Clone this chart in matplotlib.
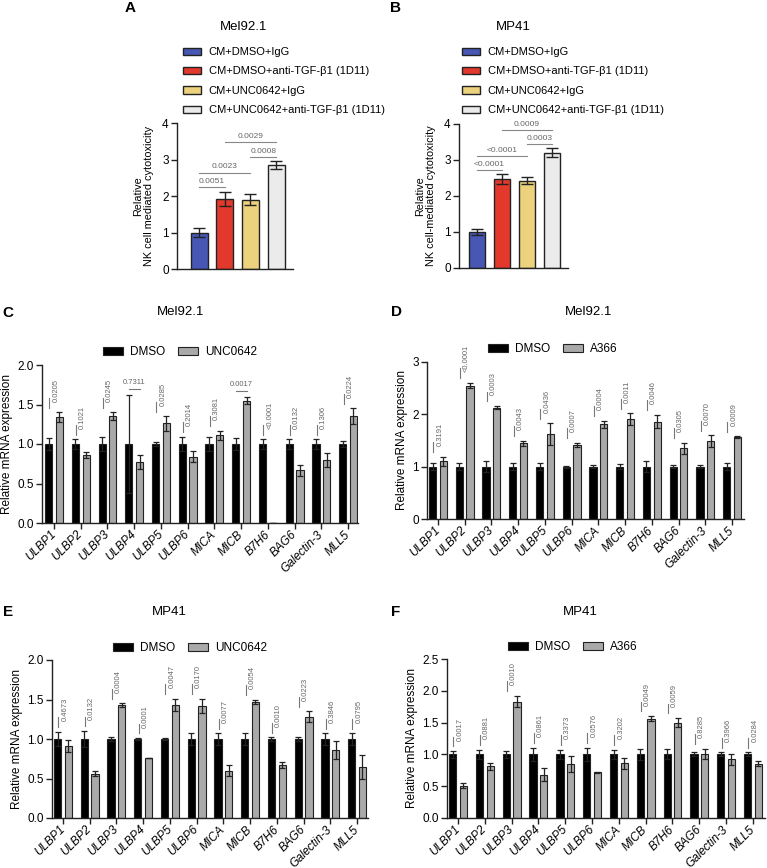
import matplotlib
matplotlib.use('Agg')
import matplotlib.pyplot as plt
import numpy as np
from matplotlib.patches import Patch

plt.rcParams['font.family'] = ['Liberation Sans', 'DejaVu Sans']

# ---- panels A / B : NK cytotoxicity ----
nk_groups = ['CM+DMSO+IgG', 'CM+DMSO+anti-TGF-β1 (1D11)',
             'CM+UNC0642+IgG', 'CM+UNC0642+anti-TGF-β1 (1D11)']
mel_nk_mean = [1.00, 1.92, 1.90, 2.85]
mel_nk_err = [0.13, 0.20, 0.16, 0.10]
mel_nk_p = [(0, 1, '0.0051', 0), (0, 2, '0.0023', 1),
            (2, 3, '0.0008', 0), (1, 3, '0.0029', 1)]
mp_nk_mean = [1.00, 2.47, 2.42, 3.20]
mp_nk_err = [0.08, 0.13, 0.10, 0.12]
mp_nk_p = [(0, 1, '<0.0001', 0), (0, 2, '<0.0001', 1),
           (2, 3, '0.0003', 0), (1, 3, '0.0009', 1)]

# ---- panels C-F : qPCR ----
genes = ['ULBP1', 'ULBP2', 'ULBP3', 'ULBP4', 'ULBP5', 'ULBP6',
         'MICA', 'MICB', 'B7H6', 'BAG6', 'Galectin-3', 'MLL5']
dmso = [1.0, 1.0, 1.0, 1.0, 1.0, 1.0, 1.0, 1.0, 1.0, 1.0, 1.0, 1.0]

c_dmso_err = [0.07, 0.06, 0.09, 0.62, 0.02, 0.09, 0.09, 0.07, 0.06, 0.06, 0.06, 0.04]
c_unc = [1.34, 0.86, 1.35, 0.77, 1.26, 0.84, 1.11, 1.55, 0.005, 0.67, 0.80, 1.35]
c_unc_err = [0.06, 0.04, 0.05, 0.09, 0.09, 0.07, 0.06, 0.04, 0.0, 0.07, 0.09, 0.10]
c_p = ['0.0205', '0.1021', '0.0245', '0.7311', '0.0285', '0.2014',
       '0.3081', '0.0017', '<0.0001', '0.0132', '0.1306', '0.0224']
c_flat = ['ULBP4', 'MICB']

d_dmso_err = [0.07, 0.07, 0.10, 0.07, 0.07, 0.02, 0.03, 0.05, 0.10, 0.03, 0.03, 0.07]
d_a366 = [1.10, 2.55, 2.13, 1.45, 1.62, 1.42, 1.81, 1.91, 1.86, 1.35, 1.49, 1.56]
d_a366_err = [0.09, 0.05, 0.03, 0.05, 0.21, 0.04, 0.07, 0.11, 0.13, 0.11, 0.11, 0.02]
d_p = ['0.3191', '<0.0001', '0.0003', '0.0043', '0.0436', '0.0007',
       '0.0004', '0.0011', '0.0046', '0.0305', '0.0070', '0.0009']

e_dmso_err = [0.09, 0.10, 0.03, 0.01, 0.01, 0.07, 0.07, 0.08, 0.02, 0.03, 0.07, 0.07]
e_unc = [0.91, 0.56, 1.43, 0.76, 1.43, 1.42, 0.60, 1.47, 0.67, 1.28, 0.86, 0.65]
e_unc_err = [0.08, 0.03, 0.02, 0.005, 0.08, 0.09, 0.07, 0.03, 0.04, 0.07, 0.11, 0.15]
e_p = ['0.4673', '0.0132', '0.0004', '0.0001', '0.0047', '0.0170',
       '0.0077', '0.0054', '0.0010', '0.0223', '0.3846', '0.0795']

f_dmso_err = [0.05, 0.07, 0.05, 0.10, 0.07, 0.10, 0.07, 0.09, 0.08, 0.03, 0.03, 0.03]
f_a366 = [0.51, 0.81, 1.83, 0.68, 0.85, 0.72, 0.86, 1.56, 1.50, 1.01, 0.92, 0.85]
f_a366_err = [0.04, 0.05, 0.09, 0.10, 0.12, 0.01, 0.09, 0.04, 0.07, 0.08, 0.08, 0.04]
f_p = ['0.0017', '0.0881', '0.0010', '0.0861', '0.3373', '0.0576',
       '0.3202', '0.0049', '0.0059', '0.8285', '0.3966', '0.0284']

W, H = 767, 868
fig = plt.figure(figsize=(W / 100, H / 100), dpi=100)

nk_colors = ['#4757b3', '#e2392c', '#ecd27c', '#ebebeb']
EDGE = '#222222'
PGRAY = '#666666'


def px_axes(x0, x1, ytop, ybot):
    return fig.add_axes([x0 / W, 1 - ybot / H, (x1 - x0) / W, (ybot - ytop) / H])


def style_axes(ax):
    for s in ['top', 'right']:
        ax.spines[s].set_visible(False)
    for s in ['left', 'bottom']:
        ax.spines[s].set_linewidth(1.0)
        ax.spines[s].set_color(EDGE)
    ax.tick_params(width=1.0, length=4, color=EDGE, labelsize=8.5, pad=2)


def fig_text(x, y, s, **kw):
    fig.text(x / W, 1 - y / H, s, **kw)


def nk_panel(x0, x1, ytop, ybot, mean, err, pvals, ylabel, xlim):
    ax = px_axes(x0, x1, ytop, ybot)
    x = np.arange(len(mean))
    ax.bar(x, mean, width=0.66, color=nk_colors, edgecolor=EDGE, linewidth=1.0,
           yerr=err, capsize=4, error_kw=dict(elinewidth=1.0, capthick=1.0, ecolor=EDGE))
    ax.set_xlim(*xlim)
    ax.set_ylim(0, 4)
    ax.set_yticks([0, 1, 2, 3, 4])
    ax.set_xticks([])
    style_axes(ax)
    ax.set_ylabel(ylabel, fontsize=7.8, linespacing=1.1, labelpad=6)
    tops = np.array(mean) + np.array(err)
    for i, j, lab, lev in pvals:
        y = tops[i:j + 1].max() + 0.12 + 0.4 * lev
        ax.plot([i, j], [y, y], color='#888888', lw=0.8)
        ax.text((i + j) / 2, y + 0.06, lab, ha='center', va='bottom', fontsize=6, color=PGRAY)
    return ax


nk_panel(177, 293, 123, 269, mel_nk_mean, mel_nk_err, mel_nk_p,
         'Relative\nNK cell mediated cytotoxicity', (-0.86, 3.66))
nk_panel(459, 568, 124, 268, mp_nk_mean, mp_nk_err, mp_nk_p,
         'Relative\nNK cell-mediated cytotoxicity', (-0.72, 3.64))

for lx, ly in [(183, 47), (462, 47)]:
    handles = [Patch(facecolor=c, edgecolor=EDGE, linewidth=1.0) for c in nk_colors]
    fig.legend(handles, nk_groups, loc='upper left', bbox_to_anchor=(lx / W, 1 - ly / H),
               frameon=False, fontsize=8, handlelength=1.6, handleheight=0.6,
               handletextpad=0.7, labelspacing=0.85, borderpad=0, borderaxespad=0)

fig_text(244, 27, 'Mel92.1', ha='center', va='center', fontsize=9.5)
fig_text(513, 27, 'MP41', ha='center', va='center', fontsize=9.5)


def gene_panel(x0, x1, ytop, ybot, ymax, yticks, fmt, treat, terr, derr, pvals,
               tname, xlim, flat=()):
    ax = px_axes(x0, x1, ytop, ybot)
    x = np.arange(len(genes))
    off, bw = 0.2, 0.27
    ek = dict(elinewidth=0.9, capthick=0.9, ecolor=EDGE)
    ax.bar(x - off, dmso, width=bw, color='black', edgecolor=EDGE, linewidth=0.8,
           yerr=derr, capsize=2.2, error_kw=ek, label='DMSO')
    ax.bar(x + off, treat, width=bw, color='#a9a9a9', edgecolor=EDGE, linewidth=0.8,
           yerr=terr, capsize=2.2, error_kw=ek, label=tname)
    ax.set_xlim(*xlim)
    ax.set_ylim(0, ymax)
    ax.set_yticks(yticks)
    ax.set_yticklabels([fmt % v for v in yticks])
    ax.set_xticks(x)
    ax.set_xticklabels(genes, rotation=45, ha='right', va='center', rotation_mode='anchor',
                       fontsize=8, style='italic')
    style_axes(ax)
    ax.tick_params(axis='x', pad=3)
    ax.set_ylabel('Relative mRNA expression', fontsize=8.5, labelpad=3)
    tops = np.maximum(np.array(dmso) + np.array(derr), np.array(treat) + np.array(terr))
    pad, ln = 0.03 * ymax, 0.062 * ymax
    for i, lab in enumerate(pvals):
        if genes[i] in flat:
            y = tops[i] + 0.04 * ymax
            ax.plot([i - off, i + off], [y, y], color='#777777', lw=0.8)
            ax.text(i, y + 0.02 * ymax, lab, ha='center', va='bottom', fontsize=5.5, color=PGRAY)
        else:
            y0 = tops[i] + pad
            ax.plot([i - 0.17, i - 0.17], [y0, y0 + ln], color='#777777', lw=0.8)
            ax.text(i - 0.06, y0 + 0.6 * ln, lab, rotation=90, ha='left', va='bottom',
                    fontsize=5.5, color=PGRAY)
    return ax


def gene_legend(ax, x, y, tname):
    ax.legend(loc='center left', bbox_to_anchor=(x / W, 1 - y / H), bbox_transform=fig.transFigure,
              ncol=2, frameon=False, fontsize=8.5, handlelength=1.7, handleheight=0.65,
              handletextpad=0.6, columnspacing=1.1, borderpad=0, borderaxespad=0)


axc = gene_panel(42, 358, 365, 523, 2.0, [0, 0.5, 1.0, 1.5, 2.0], '%.1f', c_unc, c_unc_err,
                 c_dmso_err, c_p, 'UNC0642', (-0.45, 11.37), flat=c_flat)
gene_legend(axc, 103, 352, 'UNC0642')
axd = gene_panel(427, 744, 362, 519, 3.0, [0, 1, 2, 3], '%d', d_a366, d_a366_err,
                 d_dmso_err, d_p, 'A366', (-0.41, 11.45))
gene_legend(axd, 488, 349, 'A366')
axe = gene_panel(52, 368, 660, 818, 2.0, [0, 0.5, 1.0, 1.5, 2.0], '%.1f', e_unc, e_unc_err,
                 e_dmso_err, e_p, 'UNC0642', (-0.41, 11.41))
gene_legend(axe, 113, 648, 'UNC0642')
axf = gene_panel(447, 765, 659, 818, 2.5, [0, 0.5, 1.0, 1.5, 2.0, 2.5], '%.1f', f_a366,
                 f_a366_err, f_dmso_err, f_p, 'A366', (-0.41, 11.45))
gene_legend(axf, 508, 647, 'A366')

fig_text(181, 312, 'Mel92.1', ha='center', va='center', fontsize=9.5)
fig_text(589, 312, 'Mel92.1', ha='center', va='center', fontsize=9.5)
fig_text(169, 612, 'MP41', ha='center', va='center', fontsize=9.5)
fig_text(580, 612, 'MP41', ha='center', va='center', fontsize=9.5)

for lab, x, y in [('A', 130, 8), ('B', 395, 8), ('C', 8, 313), ('D', 396, 312),
                  ('E', 8, 612), ('F', 396, 612)]:
    fig_text(x, y, lab, ha='center', va='center', fontsize=11, fontweight='bold')

fig.savefig('out.png', dpi=100)
